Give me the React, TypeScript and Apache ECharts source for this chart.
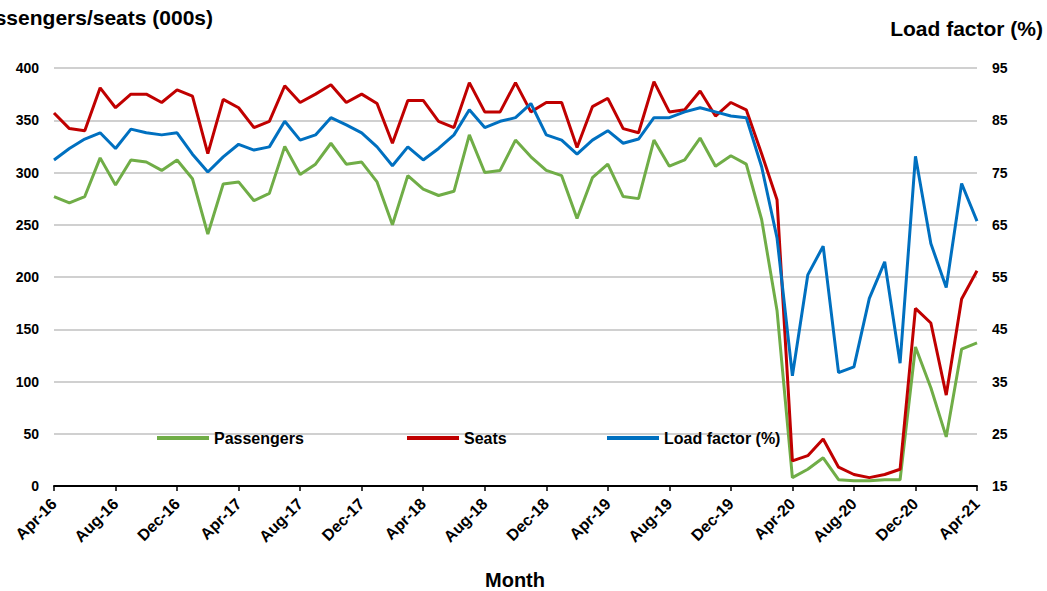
import React, { useEffect, useRef } from "react";
import * as echarts from "echarts";

const months = [
  "Apr-16", "May-16", "Jun-16", "Jul-16", "Aug-16", "Sep-16", "Oct-16", "Nov-16", "Dec-16",
  "Jan-17", "Feb-17", "Mar-17", "Apr-17", "May-17", "Jun-17", "Jul-17", "Aug-17", "Sep-17", "Oct-17", "Nov-17", "Dec-17",
  "Jan-18", "Feb-18", "Mar-18", "Apr-18", "May-18", "Jun-18", "Jul-18", "Aug-18", "Sep-18", "Oct-18", "Nov-18", "Dec-18",
  "Jan-19", "Feb-19", "Mar-19", "Apr-19", "May-19", "Jun-19", "Jul-19", "Aug-19", "Sep-19", "Oct-19", "Nov-19", "Dec-19",
  "Jan-20", "Feb-20", "Mar-20", "Apr-20", "May-20", "Jun-20", "Jul-20", "Aug-20", "Sep-20", "Oct-20", "Nov-20", "Dec-20",
  "Jan-21", "Feb-21", "Mar-21", "Apr-21",
];

const passengers = [
  277, 271, 277, 314, 288, 312, 310, 302, 312,
  294, 241, 289, 291, 273, 280, 325, 298, 308, 328, 308, 310,
  291, 250, 297, 284, 278, 282, 336, 300, 302, 331, 315, 302,
  297, 256, 295, 308, 277, 275, 331, 306, 312, 333, 306, 316,
  308, 255, 168, 8, 16, 27, 6, 5, 5, 6, 6, 133,
  94, 47, 131, 137,
];

const seats = [
  357, 342, 340, 381, 362, 375, 375, 367, 379,
  373, 318, 370, 362, 343, 349, 383, 367, 375, 384, 367, 375,
  366, 328, 369, 369, 349, 343, 386, 358, 358, 386, 358, 367,
  367, 324, 363, 371, 342, 338, 387, 358, 360, 378, 354, 367,
  360, 318, 274, 24, 29, 45, 18, 11, 8, 11, 16, 170,
  156, 87, 179, 206,
];

const loadFactor = [
  77.4, 79.6, 81.4, 82.6, 79.6, 83.3, 82.6, 82.2, 82.6,
  78.5, 75.1, 78.0, 80.4, 79.3, 79.9, 84.8, 81.2, 82.2, 85.5, 84.1, 82.6,
  79.9, 76.3, 79.9, 77.4, 79.6, 82.2, 87.0, 83.6, 84.8, 85.5, 88.2, 82.2,
  81.2, 78.5, 81.2, 83.0, 80.6, 81.4, 85.5, 85.5, 86.6, 87.4, 86.6, 85.8,
  85.5, 76.1, 62.5, 36.1, 55.4, 60.9, 36.7, 37.8, 50.9, 57.9, 38.5, 78.1,
  61.4, 53.0, 72.9, 65.7,
];

const rightTicks = [15, 25, 35, 45, 55, 65, 75, 85, 95];

const FONT = '"Liberation Sans", Arial, sans-serif';
const GREEN = "#70ad47";
const RED = "#c00000";
const BLUE = "#0070c0";

export default function App() {
  const ref = useRef<HTMLDivElement>(null);
  useEffect(() => {
    document.body.style.margin = "0";
    const chart = echarts.init(ref.current!, null, { renderer: "svg" });
    const legendBase = {
      top: 430,
      padding: 0,
      icon: "rect",
      itemWidth: 52,
      itemHeight: 4,
      textStyle: { fontSize: 16, fontWeight: "bold", color: "#000", fontFamily: FONT },
    };
    chart.setOption({
      animation: false,
      textStyle: { fontFamily: FONT },
      grid: { left: 54, right: 70, top: 68, bottom: 105 },
      legend: [
        { ...legendBase, left: 157, data: ["Passengers"] },
        { ...legendBase, left: 407, data: ["Seats"] },
        { ...legendBase, left: 607, data: ["Load factor (%)"] },
      ],
      xAxis: {
        type: "category",
        data: months,
        boundaryGap: false,
        axisLine: { lineStyle: { color: "#000", width: 2 } },
        axisTick: { interval: 3, length: 5, lineStyle: { color: "#000", width: 1.5 } },
        axisLabel: {
          interval: 3,
          rotate: 45,
          fontSize: 16,
          fontWeight: "bold",
          color: "#000",
          margin: 15,
          fontFamily: FONT,
        },
        splitLine: { show: false },
      },
      yAxis: [
        {
          type: "value",
          min: 0,
          max: 400,
          interval: 50,
          axisLine: { show: false },
          axisTick: { show: false },
          axisLabel: { fontSize: 14, fontWeight: "bold", color: "#000", margin: 15, fontFamily: FONT },
          splitLine: { lineStyle: { color: "#c0c0c0", width: 1.5 } },
        },
        {
          type: "value",
          position: "right",
          min: 15,
          max: 95,
          axisLine: { show: false },
          axisTick: { show: false },
          axisLabel: {
            customValues: rightTicks,
            fontSize: 14,
            fontWeight: "bold",
            color: "#000",
            margin: 15,
            fontFamily: FONT,
          },
          splitLine: { show: false },
        },
      ],
      series: [
        {
          name: "Passengers",
          type: "line",
          data: passengers,
          symbol: "none",
          color: GREEN,
          lineStyle: { color: GREEN, width: 3 },
        },
        {
          name: "Seats",
          type: "line",
          data: seats,
          symbol: "none",
          color: RED,
          lineStyle: { color: RED, width: 3 },
        },
        {
          name: "Load factor (%)",
          type: "line",
          yAxisIndex: 1,
          data: loadFactor,
          symbol: "none",
          color: BLUE,
          lineStyle: { color: BLUE, width: 3 },
        },
      ],
      graphic: [
        {
          type: "text",
          x: 213,
          y: 17,
          style: {
            text: "Passengers/seats (000s)",
            align: "right",
            verticalAlign: "middle",
            fontSize: 21,
            fontWeight: "bold",
            fontFamily: FONT,
            fill: "#000",
          },
        },
        {
          type: "text",
          x: 1043,
          y: 28,
          style: {
            text: "Load factor (%)",
            align: "right",
            verticalAlign: "middle",
            fontSize: 21,
            fontWeight: "bold",
            fontFamily: FONT,
            fill: "#000",
          },
        },
        {
          type: "text",
          x: 515,
          y: 580,
          style: {
            text: "Month",
            align: "center",
            verticalAlign: "middle",
            fontSize: 20,
            fontWeight: "bold",
            fontFamily: FONT,
            fill: "#000",
          },
        },
      ],
    });
    return () => chart.dispose();
  }, []);
  return <div ref={ref} style={{ width: 1047, height: 591 }} />;
}
